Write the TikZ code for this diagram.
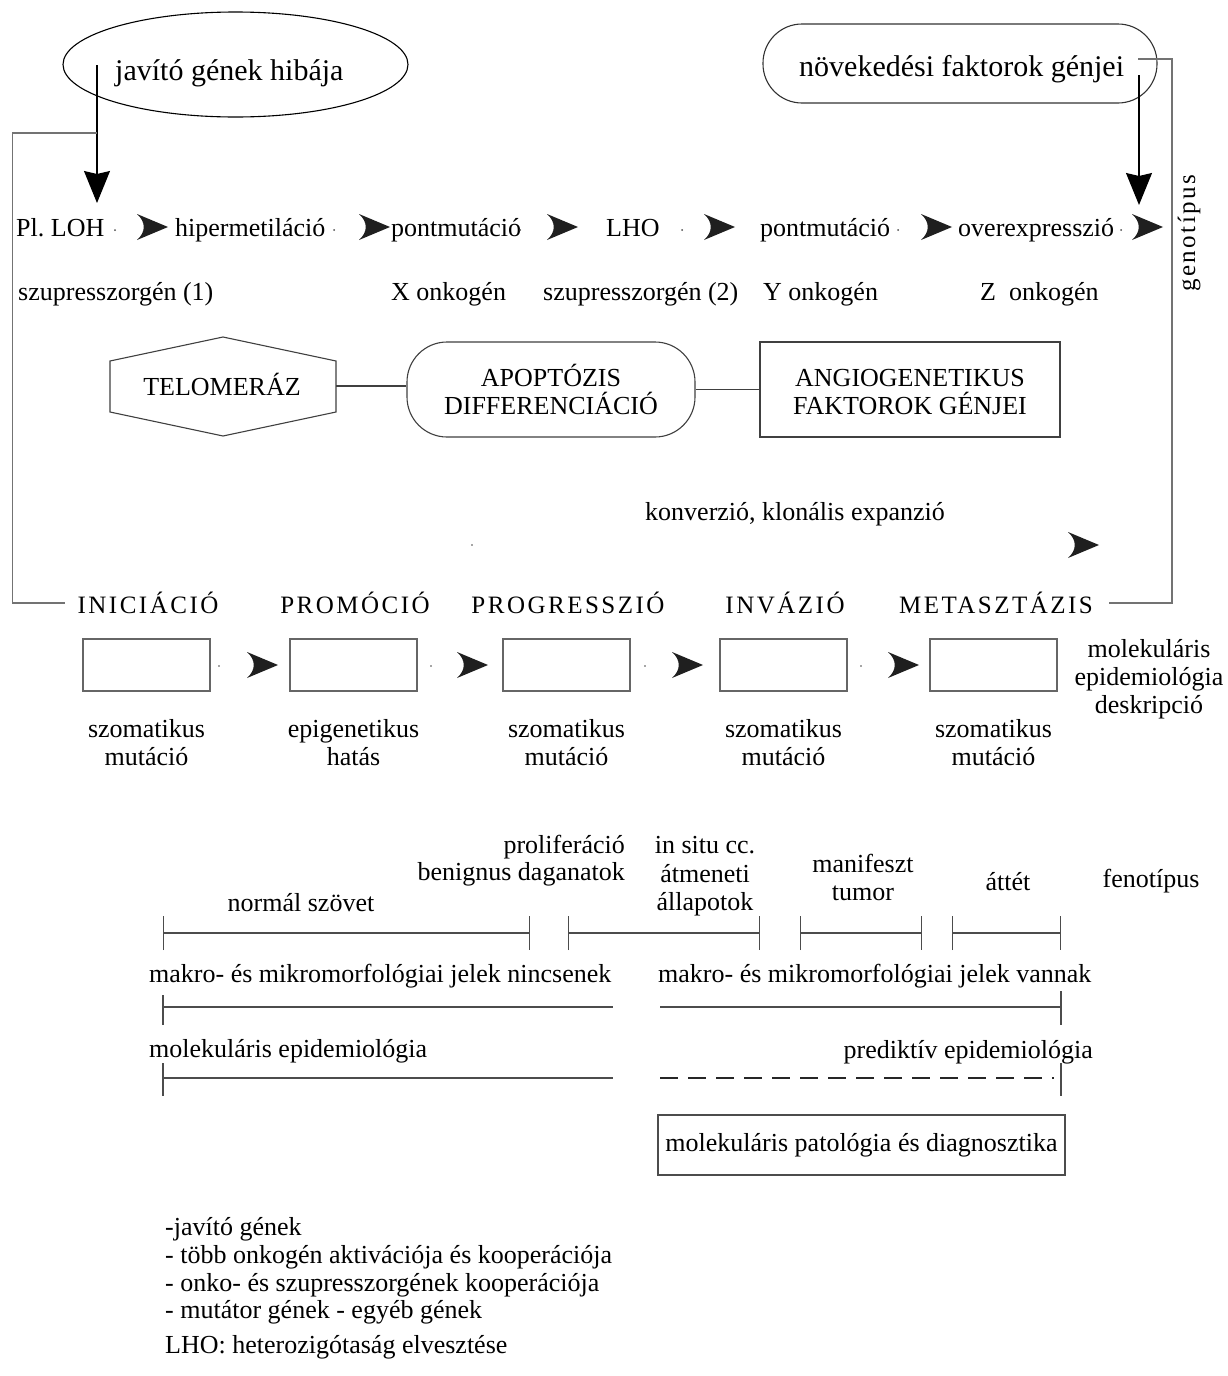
\documentclass[tikz,border=0pt]{standalone}
\usepackage{fontspec}
\setmainfont{Liberation Serif}
\newfontfamily\spacedfont[LetterSpace=10]{Liberation Serif}
\usetikzlibrary{arrows.meta,shapes.geometric}
\frenchspacing
\tikzset{
  txt/.style={inner sep=0pt, font=\fontsize{26}{28}\selectfont, anchor=base},
  txtw/.style={txt, anchor=base west},
  txte/.style={txt, anchor=base east},
  bigtxt/.style={inner sep=0pt, font=\fontsize{30}{34}\selectfont, anchor=base west},
  spaced/.style={inner sep=0pt, font=\spacedfont\fontsize{25}{30}\selectfont, anchor=base},
  frame/.style={draw=black!55, line width=1.2pt},
  outline/.style={draw=black!80, line width=1.1pt},
  stagebox/.style={draw=black!60, line width=1.2pt, minimum width=127pt, minimum height=52pt, inner sep=0pt},
  bracket/.style={draw=black!70, line width=1.1pt},
  downarrow/.style={draw=black, line width=1.2pt, -{Stealth[length=32pt,width=26pt,inset=3pt]}},
  rtip/.pic={\fill[black!88] (0,-13) -- (31,0) -- (0,13) .. controls (9,5) and (9,-5) .. (0,-13);},
  dotmark/.style={fill=black!70}
}
\begin{document}
\begin{tikzpicture}[x=1pt,y=-1pt]
\useasboundingbox (0,0) rectangle (1228,1376);
\fill[white] (0,0) rectangle (1228,1376);

% ---------- top shapes ----------
\node[outline, draw=black, ellipse, minimum width=345pt, minimum height=105pt, inner sep=0pt] (repair) at (235.5,64.5) {};
\node[bigtxt] (repairtxt) at (115,80) {javító gének hibája};
\node[outline, rounded corners=39pt, minimum width=394pt, minimum height=79pt, inner sep=0pt] (growth) at (960,63.5) {};
\node[bigtxt] (growthtxt) at (799,76) {növekedési faktorok génjei};

% down arrows
\coordinate (s1) at (97,65);
\coordinate (t1) at (97,203);
\draw[downarrow] (s1) -- (t1);
\coordinate (s2) at (1139,75);
\coordinate (t2) at (1139,205);
\draw[downarrow] (s2) -- (t2);

% gray frame lines
\coordinate (fl1) at (97,133);
\coordinate (fl2) at (12.7,133);
\coordinate (fl3) at (12.7,603);
\coordinate (fl4) at (65,603);
\draw[frame] (fl1) -- (fl2) -- (fl3) -- (fl4);
\coordinate (fr1) at (1138,59);
\coordinate (fr2) at (1172,59);
\coordinate (fr3) at (1172,603);
\coordinate (fr4) at (1109,603);
\draw[frame] (fr1) -- (fr2) -- (fr3) -- (fr4);

\node[spaced, rotate=90, anchor=center] (geno) at (1189,233) {genotípus};

% ---------- row 1 ----------
\node[txtw] (r1a) at (16,236) {Pl.\ LOH};
\node[txtw] (r1b) at (175,236) {hipermetiláció};
\node[txtw] (r1c) at (391,236) {pontmutáció};
\node[txtw] (r1d) at (606,236) {LHO};
\node[txtw] (r1e) at (760,236) {pontmutáció};
\node[txtw] (r1f) at (958,236) {overexpresszió};
\pic (p1) at (137,227) {rtip};
\pic (p2) at (359,227) {rtip};
\pic (p3) at (547,227) {rtip};
\pic (p4) at (704,227) {rtip};
\pic (p5) at (921,227) {rtip};
\pic (p6) at (1132,227) {rtip};
\foreach \dx in {115,334,520,682,898,1121} \fill[dotmark] (\dx,230) circle (1pt);

% ---------- row 2 ----------
\node[txtw] (r2a) at (18,300) {szupresszorgén (1)};
\node[txtw] (r2b) at (391,300) {X onkogén};
\node[txtw] (r2c) at (543,300) {szupresszorgén (2)};
\node[txtw] (r2d) at (763,300) {Y onkogén};
\node[txtw] (r2e) at (980,300) {Z\ \ onkogén};

% ---------- middle shapes ----------
\draw[outline, draw=black!75] (110,361) -- (223,337) -- (336,361) -- (336,412) -- (223,436) -- (110,412) -- cycle;
\node[inner sep=0pt, minimum width=226pt, minimum height=40pt] (telo) at (223,386) {};
\node[txt] (telotxt) at (222,395) {TELOMERÁZ};
\node[outline, draw=black!75, rounded corners=40pt, minimum width=288pt, minimum height=95pt, inner sep=0pt] (apop) at (551,389.5) {};
\node[txt] (apop1) at (551,386) {APOPTÓZIS};
\node[txt] (apop2) at (551,414) {DIFFERENCIÁCIÓ};
\node[outline, draw=black!75, minimum width=300pt, minimum height=95pt, inner sep=0pt] (angio) at (910,389.5) {};
\node[txt] (angio1) at (910,386) {ANGIOGENETIKUS};
\node[txt] (angio2) at (910,414) {FAKTOROK GÉNJEI};
\draw[outline, draw=black!75] (telo.east) -- (apop.west |- telo.east);
\draw[outline, draw=black!75] (apop.east) -- (angio.west);

% ---------- conversion ----------
\node[txtw] (conv) at (645,520) {konverzió, klonális expanzió};
\pic (p7) at (1068,545) {rtip};
\fill[dotmark] (472,545) circle (0.8pt);

% ---------- stages ----------
\node[spaced] (inic) at (148,613) {INICIÁCIÓ};
\node[spaced] (prom) at (355,613) {PROMÓCIÓ};
\node[spaced] (prog) at (568,613) {PROGRESSZIÓ};
\node[spaced] (inv) at (785,613) {INVÁZIÓ};
\node[spaced] (meta) at (996,613) {METASZTÁZIS};

\node[stagebox] (b1) at (146.5,665) {};
\node[stagebox] (b2) at (353.5,665) {};
\node[stagebox] (b3) at (566.5,665) {};
\node[stagebox] (b4) at (783.5,665) {};
\node[stagebox] (b5) at (993.5,665) {};
\pic (q1) at (247,665) {rtip};
\pic (q2) at (457,665) {rtip};
\pic (q3) at (672,665) {rtip};
\pic (q4) at (888,665) {rtip};
\foreach \dx in {219,431,645,861} \fill[dotmark] (\dx,666) circle (0.9pt);

\node[txt] (m1a) at (146.5,737) {szomatikus};
\node[txt] (m1b) at (146.5,765) {mutáció};
\node[txt] (m2a) at (353.5,737) {epigenetikus};
\node[txt] (m2b) at (353.5,765) {hatás};
\node[txt] (m3a) at (566.5,737) {szomatikus};
\node[txt] (m3b) at (566.5,765) {mutáció};
\node[txt] (m4a) at (783.5,737) {szomatikus};
\node[txt] (m4b) at (783.5,765) {mutáció};
\node[txt] (m5a) at (993.5,737) {szomatikus};
\node[txt] (m5b) at (993.5,765) {mutáció};

\node[txt] (md1) at (1149,657) {molekuláris};
\node[txt] (md2) at (1149,685) {epidemiológia};
\node[txt] (md3) at (1149,713) {deskripció};

% ---------- timeline ----------
\node[txte] (prol1) at (625,853) {proliferáció};
\node[txte] (prol2) at (625,880) {benignus daganatok};
\node[txt] (norm) at (301,911) {normál szövet};
\node[txt] (situ1) at (705,853) {in situ cc.};
\node[txt] (situ2) at (705,882) {átmeneti};
\node[txt] (situ3) at (705,910) {állapotok};
\node[txt] (man1) at (863,872) {manifeszt};
\node[txt] (man2) at (863,900) {tumor};
\node[txt] (att) at (1008,890) {áttét};
\node[txt] (feno) at (1151,887) {fenotípus};

\draw[bracket, {Bar[width=34pt]}-{Bar[width=34pt]}] (163,933) -- (530,933);
\draw[bracket, {Bar[width=34pt]}-{Bar[width=34pt]}] (568,933) -- (760,933);
\draw[bracket, {Bar[width=34pt]}-{Bar[width=34pt]}] (800,933) -- (922,933);
\draw[bracket, {Bar[width=34pt]}-{Bar[width=34pt]}] (952,933) -- (1061,933);

\node[txtw] (mk1) at (149,982) {makro- és mikromorfológiai jelek nincsenek};
\node[txtw] (mk2) at (658,982) {makro- és mikromorfológiai jelek vannak};
\draw[bracket] (163,995) -- (163,1025);
\draw[bracket] (163,1007) -- (613,1007);
\draw[bracket] (660,1007) -- (1061,1007);
\draw[bracket] (1061,991) -- (1061,1025);

\node[txtw] (ep1) at (149,1057) {molekuláris epidemiológia};
\node[txte] (ep2) at (1093,1058) {prediktív epidemiológia};
\draw[bracket] (163,1063) -- (163,1096);
\draw[bracket] (163,1078) -- (613,1078);
\draw[draw=black!85, line width=2pt, dash pattern=on 18pt off 10pt] (660,1078) -- (1054,1078);
\draw[bracket] (1061,1063) -- (1061,1096);

\node[outline, draw=black!70, minimum width=407pt, minimum height=60pt, inner sep=0pt, font=\fontsize{26}{28}\selectfont] (diag) at (861.5,1145) {molekuláris patológia és diagnosztika};

% ---------- list ----------
\node[txtw] (l1) at (165,1235) {-javító gének};
\node[txtw] (l2) at (165,1263) {- több onkogén aktivációja és kooperációja};
\node[txtw] (l3) at (165,1291) {- onko- és szupresszorgének kooperációja};
\node[txtw] (l4) at (165,1318) {- mutátor gének - egyéb gének};
\node[txtw] (l5) at (165,1353) {LHO: heterozigótaság elvesztése};
\end{tikzpicture}
\end{document}
